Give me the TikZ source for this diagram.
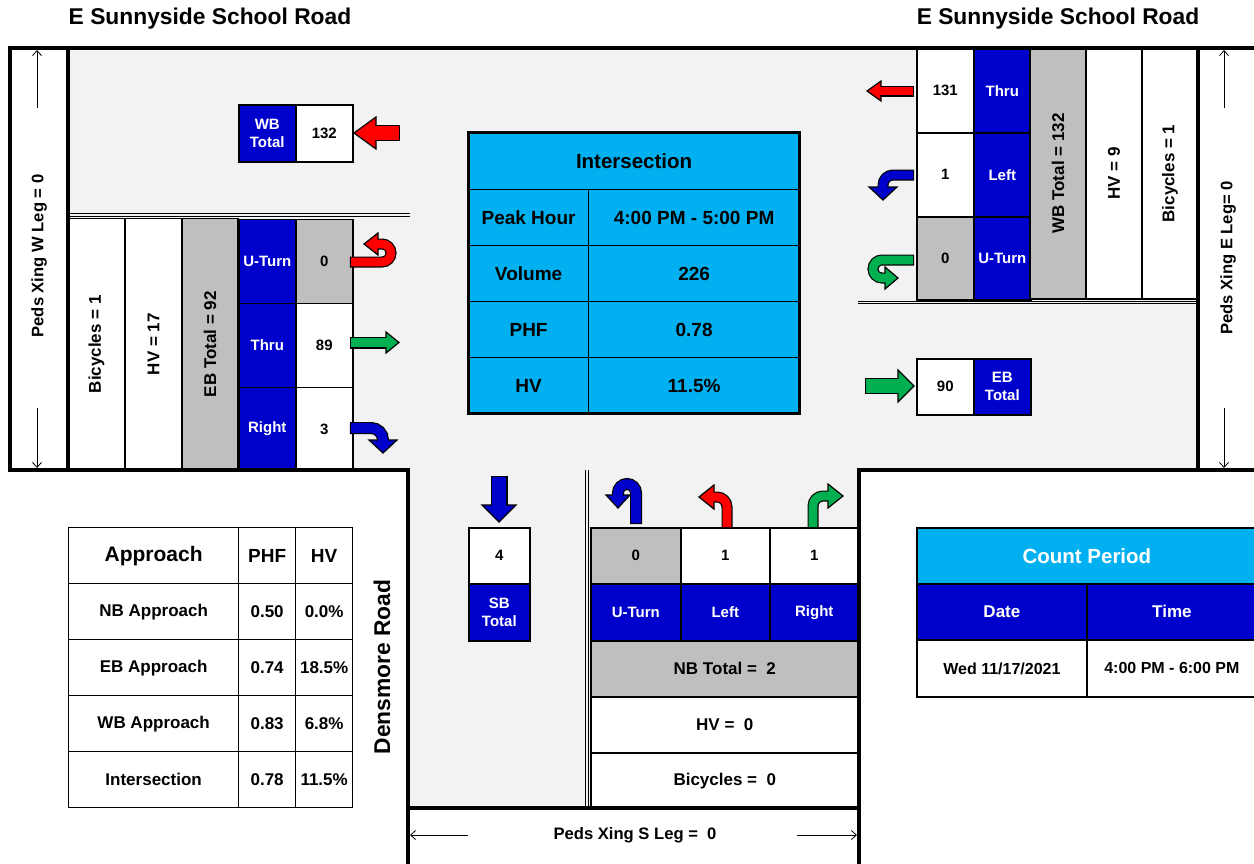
\documentclass[tikz,border=0pt]{standalone}
\usepackage{fontspec}
\setmainfont{Liberation Sans}
\usetikzlibrary{arrows.meta}
\definecolor{roadgray}{HTML}{F2F2F2}
\definecolor{cellgray}{HTML}{BFBFBF}
\definecolor{laneblue}{HTML}{0000CC}
\definecolor{infocyan}{HTML}{00B0F0}
\definecolor{arrred}{HTML}{FF0000}
\definecolor{arrgreen}{HTML}{00B050}
% #1 colour, #2 outer shaft width, #3 inner shaft width, #4 shaft path, #5 head polygon
\newcommand\blockarrow[5]{%
  \draw[line width=#2, black, shorten <=-1.2pt] #4;
  \filldraw[fill=#1, draw=black, line width=1.2pt, line join=miter] #5 -- cycle;
  \draw[line width=#3, #1] #4;
}
\tikzset{
  fa/.style={font=\fontsize{15}{18}\selectfont\bfseries},
  fb/.style={font=\fontsize{17}{20}\selectfont\bfseries},
  fc/.style={font=\fontsize{19}{22}\selectfont\bfseries},
  fd/.style={font=\fontsize{20.5}{24}\selectfont\bfseries},
  fe/.style={font=\fontsize{21}{24}\selectfont\bfseries},
  ff/.style={font=\fontsize{16}{19}\selectfont\bfseries},
  fp/.style={font=\fontsize{16.6}{19}\selectfont\bfseries},
  fg/.style={font=\fontsize{22.8}{26}\selectfont\bfseries},
  cellbase/.style={draw=black, line width=1.6pt, inner sep=0pt, anchor=north west, align=center},
  cellw/.style={cellbase, fill=white},
  cellb/.style={cellbase, fill=laneblue, text=white},
  cellg/.style={cellbase, fill=cellgray},
  cellc/.style={cellbase, fill=infocyan, line width=1.2pt},
  vcell/.style={draw=black, line width=1.6pt, inner sep=0pt, rotate=90, anchor=center, fb},
  roadline/.style={line width=3.2pt, line cap=rect},
  dline/.style={line width=0.9pt},
  pedarrow/.style={line width=0.8pt, -{Straight Barb[length=5pt,width=9pt]}},
}
\begin{document}
\begin{tikzpicture}[x=1pt,y=-1pt,font=\bfseries]
\useasboundingbox (0,0) rectangle (1254,863);
\fill[white] (0,0) rectangle (1254,863);
\fill[roadgray] (68,48) -- (1198,48) -- (1198,470) -- (859,470) -- (859,808) -- (408,808) -- (408,470) -- (68,470) -- cycle;

% titles
\node[fg] (titlew) at (210,19) {E Sunnyside School Road};
\node[fg] (titlee) at (1058,19) {E Sunnyside School Road};

% double lane lines
\draw[dline] (68,213.5) -- (410,213.5);
\draw[dline] (68,216) -- (410,216);
\draw[dline] (858,301) -- (1198,301);
\draw[dline] (858,303.5) -- (1198,303.5);
\draw[dline] (585.5,470) -- (585.5,808);
\draw[dline] (588,470) -- (588,808);

% EB approach lanes (left)
\node[vcell, fill=white, minimum width=251.5pt, minimum height=57pt] (lbike) at (96.5,344.25) {Bicycles = 1};
\node[vcell, fill=white, minimum width=251.5pt, minimum height=57pt] (lhv) at (153.5,344.25) {HV = 17};
\node[vcell, fill=cellgray, minimum width=251.5pt, minimum height=56pt] (lebt) at (210,344.25) {EB Total = 92};
\node[cellb, fa, minimum width=57pt, minimum height=84pt] (lu) at (238,218.5) {U-Turn};
\node[cellb, fa, minimum width=57pt, minimum height=84pt] (lt) at (238,302.5) {Thru};
\node[cellb, fa, minimum width=57pt, minimum height=83.5pt] (lr) at (238,386.5) {Right};
\node[cellg, fa, minimum width=57pt, minimum height=84pt] (luv) at (295,218.5) {0};
\node[cellw, fa, minimum width=57pt, minimum height=84pt] (ltv) at (295,302.5) {89};
\node[cellw, fa, minimum width=57pt, minimum height=83.5pt] (lrv) at (295,386.5) {3};

% WB approach lanes (right)
\node[cellw, fa, minimum width=57pt, minimum height=84pt] (rtv) at (916,48) {131};
\node[cellw, fa, minimum width=57pt, minimum height=84pt] (rlv) at (916,132) {1};
\node[cellg, fa, minimum width=57pt, minimum height=83pt] (ruv) at (916,216) {0};
\node[cellb, fa, minimum width=57pt, minimum height=84pt] (rt) at (973,48) {Thru};
\node[cellb, fa, minimum width=57pt, minimum height=84pt] (rl) at (973,132) {Left};
\node[cellb, fa, minimum width=57pt, minimum height=83pt] (ru) at (973,216) {U-Turn};
\node[vcell, fill=cellgray, minimum width=251pt, minimum height=56pt] (rwbt) at (1058,173.5) {WB Total = 132};
\node[vcell, fill=white, minimum width=251pt, minimum height=56pt] (rhv) at (1114,173.5) {HV = 9};
\node[vcell, fill=white, minimum width=251pt, minimum height=56pt] (rbike) at (1170,173.5) {Bicycles = 1};

% WB total (left) and EB total (right)
\node[cellb, fa, minimum width=57pt, minimum height=57pt] (wbtl) at (238,104) {WB\\Total};
\node[cellw, fa, minimum width=57pt, minimum height=57pt] (wbtv) at (295,104) {132};
\node[cellw, fa, minimum width=57pt, minimum height=56pt] (ebtv) at (916,358) {90};
\node[cellb, fa, minimum width=57pt, minimum height=56pt] (ebtl) at (973,358) {EB\\Total};

% intersection table
\node[cellc, fd, minimum width=331pt, minimum height=57pt] (ihd) at (468,132) {Intersection};
\node[cellc, fc, minimum width=120pt, minimum height=56pt] (ipk) at (468,189) {Peak Hour};
\node[cellc, fc, minimum width=211pt, minimum height=56pt] (ipkv) at (588,189) {4:00 PM - 5:00 PM};
\node[cellc, fc, minimum width=120pt, minimum height=56pt] (ivol) at (468,245) {Volume};
\node[cellc, fc, minimum width=211pt, minimum height=56pt] (ivolv) at (588,245) {226};
\node[cellc, fc, minimum width=120pt, minimum height=56pt] (iphf) at (468,301) {PHF};
\node[cellc, fc, minimum width=211pt, minimum height=56pt] (iphfv) at (588,301) {0.78};
\node[cellc, fc, minimum width=120pt, minimum height=56pt] (ihv) at (468,357) {HV};
\node[cellc, fc, minimum width=211pt, minimum height=56pt] (ihvv) at (588,357) {11.5\%};
\draw[line width=3pt] (468,132) rectangle (799,413);

% SB total
\node[cellw, fa, minimum width=61pt, minimum height=56pt] (sbv) at (468,527) {4};
\node[cellb, fa, minimum width=61pt, minimum height=57pt] (sbl) at (468,583) {SB\\Total};

% NB approach
\node[cellg, fa, minimum width=90pt, minimum height=56pt] (nuv) at (590,527) {0};
\node[cellw, fa, minimum width=89pt, minimum height=56pt] (nlv) at (680,527) {1};
\node[cellw, fa, minimum width=89pt, minimum height=56pt] (nrv) at (769,527) {1};
\node[cellb, fa, minimum width=90pt, minimum height=57pt] (nu) at (590,583) {U-Turn};
\node[cellb, fa, minimum width=89pt, minimum height=57pt] (nl) at (680,583) {Left};
\node[cellb, fa, minimum width=89pt, minimum height=57pt] (nr) at (769,583) {Right};
\node[cellg, fb, minimum width=268pt, minimum height=56pt] (nbt) at (590,640) {NB Total = \ 2};
\node[cellw, fb, minimum width=268pt, minimum height=56pt] (nhv) at (590,696) {HV = \ 0};
\node[cellw, fb, minimum width=268pt, minimum height=56pt] (nbk) at (590,752) {Bicycles = \ 0};

% approach table
\node[cellw, fe, line width=1.3pt, minimum width=170pt, minimum height=56pt] (ahd) at (68,527) {Approach};
\node[cellw, fc, line width=1.3pt, minimum width=57pt, minimum height=56pt] (aphf) at (238,527) {PHF};
\node[cellw, fc, line width=1.3pt, minimum width=57pt, minimum height=56pt] (ahv) at (295,527) {HV};
\node[cellw, fb, line width=1.3pt, minimum width=170pt, minimum height=56pt] (anb) at (68,583) {NB Approach};
\node[cellw, fb, line width=1.3pt, minimum width=57pt, minimum height=56pt] (anbp) at (238,583) {0.50};
\node[cellw, fb, line width=1.3pt, minimum width=57pt, minimum height=56pt] (anbh) at (295,583) {0.0\%};
\node[cellw, fb, line width=1.3pt, minimum width=170pt, minimum height=56pt] (aeb) at (68,639) {EB Approach};
\node[cellw, fb, line width=1.3pt, minimum width=57pt, minimum height=56pt] (aebp) at (238,639) {0.74};
\node[cellw, fb, line width=1.3pt, minimum width=57pt, minimum height=56pt] (aebh) at (295,639) {18.5\%};
\node[cellw, fb, line width=1.3pt, minimum width=170pt, minimum height=56pt] (awb) at (68,695) {WB Approach};
\node[cellw, fb, line width=1.3pt, minimum width=57pt, minimum height=56pt] (awbp) at (238,695) {0.83};
\node[cellw, fb, line width=1.3pt, minimum width=57pt, minimum height=56pt] (awbh) at (295,695) {6.8\%};
\node[cellw, fb, line width=1.3pt, minimum width=170pt, minimum height=56pt] (ain) at (68,751) {Intersection};
\node[cellw, fb, line width=1.3pt, minimum width=57pt, minimum height=56pt] (ainp) at (238,751) {0.78};
\node[cellw, fb, line width=1.3pt, minimum width=57pt, minimum height=56pt] (ainh) at (295,751) {11.5\%};

% count period
\node[cellc, fd, text=white, line width=1.8pt, minimum width=340pt, minimum height=56pt] (cph) at (916,527) {Count Period};
\node[cellb, fb, line width=1.8pt, minimum width=170pt, minimum height=56pt] (cpd) at (916,583) {Date};
\node[cellb, fb, line width=1.8pt, minimum width=170pt, minimum height=56pt] (cpt) at (1086,583) {Time};
\node[cellw, ff, line width=1.8pt, minimum width=170pt, minimum height=57pt] (cpdv) at (916,639) {Wed 11/17/2021};
\node[cellw, ff, line width=1.8pt, minimum width=170pt, minimum height=57pt] (cptv) at (1086,639) {4:00 PM - 6:00 PM};

% road edges
\draw[roadline] (10,48) -- (1256,48);
\draw[roadline] (10,48) -- (10,470) -- (408,470) -- (408,866);
\draw[roadline] (68,48) -- (68,470);
\draw[roadline] (1198,48) -- (1198,470);
\draw[roadline] (1256,470) -- (859,470) -- (859,866);
\draw[roadline] (408,808) -- (859,808);

% street name
\node[fg, rotate=90] (dens) at (382,667) {Densmore Road};

% pedestrian crossings
\node[fp, rotate=90] (pedw) at (39,256) {Peds Xing W Leg = 0};
\draw[pedarrow] (37,108) -- (37,50);
\draw[pedarrow] (37,408) -- (37,468);
\node[fp, rotate=90] (pede) at (1228,258) {Peds Xing E Leg= 0};
\draw[pedarrow] (1224,108) -- (1224,50);
\draw[pedarrow] (1224,408) -- (1224,468);
\node[fp] (peds) at (635,835) {Peds Xing S Leg = \ 0};
\draw[pedarrow] (468,835) -- (410,835);
\draw[pedarrow] (797,835) -- (857,835);

% movement arrows
\blockarrow{arrred}{16pt}{13.6pt}{(399,133) -- (373,133)}{(376,117) -- (354,133) -- (376,149)}
\blockarrow{arrred}{11pt}{8.6pt}{(351,262) [rounded corners=9pt] -- (391,262) -- (391,244) -- (376,244)}{(378,233) -- (364,244) -- (378,255)}
\blockarrow{arrgreen}{12pt}{9.6pt}{(351,342.5) -- (388,342.5)}{(386,332) -- (399,342.5) -- (386,353)}
\blockarrow{laneblue}{12pt}{9.6pt}{(351,428) [rounded corners=12pt] -- (383,428) -- (383,443)}{(369,440) -- (383,453) -- (397,440)}
\blockarrow{arrred}{11pt}{8.6pt}{(913,91) -- (878,91)}{(881,81) -- (867,91) -- (881,101)}
\blockarrow{laneblue}{11pt}{8.6pt}{(913,175) [rounded corners=10pt] -- (883,175) -- (883,190)}{(869,187) -- (883,200) -- (897,187)}
\blockarrow{arrgreen}{11pt}{8.6pt}{(913,260) [rounded corners=9pt] -- (873,260) -- (873,278) -- (888,278)}{(885,267) -- (898,278) -- (885,289)}
\blockarrow{arrgreen}{16.5pt}{14pt}{(866,386) -- (901,386)}{(898,370) -- (914,386) -- (898,402)}
\blockarrow{laneblue}{17pt}{14.6pt}{(499,477) -- (499,508)}{(482,505) -- (499,522) -- (516,505)}
\blockarrow{laneblue}{12pt}{9.6pt}{(636,523) [rounded corners=9pt] -- (636,484) -- (618,484) -- (618,498)}{(606,495) -- (618,508) -- (630,495)}
\blockarrow{arrred}{11pt}{8.6pt}{(727,527) [rounded corners=10pt] -- (727,497) -- (712,497)}{(714,485) -- (699,497) -- (714,509)}
\blockarrow{arrgreen}{11pt}{8.6pt}{(813,527) [rounded corners=10pt] -- (813,496) -- (830,496)}{(828,484) -- (843,496) -- (828,508)}
\end{tikzpicture}
\end{document}
